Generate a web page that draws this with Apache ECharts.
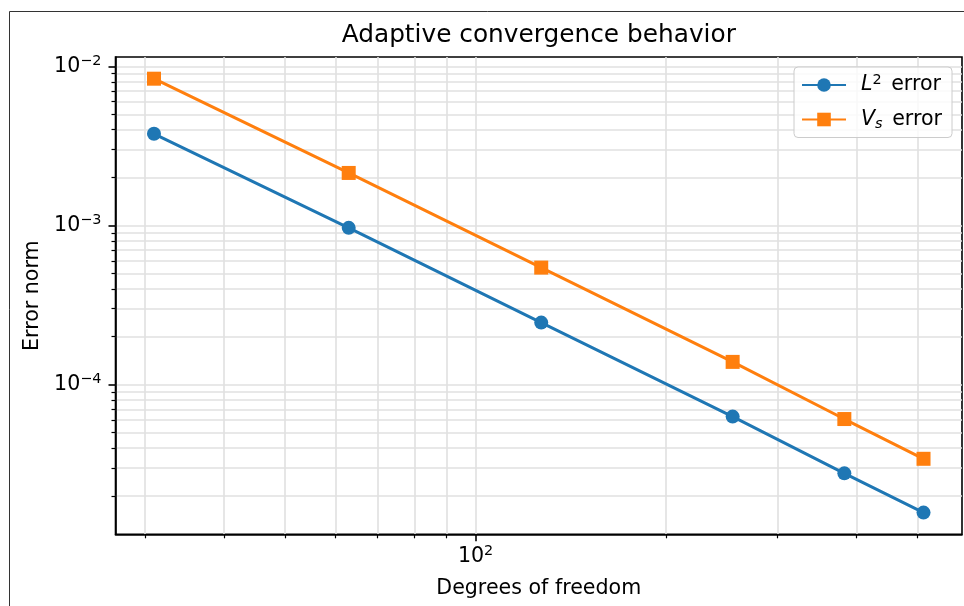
<!DOCTYPE html>
<html><head><meta charset="utf-8">
<script src="https://cdn.jsdelivr.net/npm/echarts@6/dist/echarts.min.js"></script>
<style>html,body{margin:0;padding:0;background:#fff}#c{width:964px;height:606px}</style>
</head><body><div id="c"></div>
<script>
// ---- data ----
const dofs = [31, 63, 127, 255, 383, 511];
const l2Error = [3.77e-3, 9.67e-4, 2.455e-4, 6.30e-5, 2.77e-5, 1.57e-5];
const vsError = [8.37e-3, 2.14e-3, 5.44e-4, 1.39e-4, 6.08e-5, 3.42e-5];
const xMajorTicks = [100];
const xMinorTicks = [30, 40, 50, 60, 70, 80, 90, 200, 300, 400, 500];
const yMajorTicks = [1e-4, 1e-3, 1e-2];
const yMinorTicks = [2e-5, 3e-5, 4e-5, 5e-5, 6e-5, 7e-5, 8e-5, 9e-5,
                     2e-4, 3e-4, 4e-4, 5e-4, 6e-4, 7e-4, 8e-4, 9e-4,
                     2e-3, 3e-3, 4e-3, 5e-3, 6e-3, 7e-3, 8e-3, 9e-3];
const titleText = 'Adaptive convergence behavior';
const xName = 'Degrees of freedom';
const yName = 'Error norm';

const FONT = 'DejaVu Sans';
const BLUE = '#1f77b4', ORANGE = '#ff7f0e';
const GRID_COLOR = '#e0e0e0';
const FS = 20.6, FS_SUP = 14.4;

function logPad(vals) {
  const lo = Math.log10(Math.min(...vals)), hi = Math.log10(Math.max(...vals));
  const m = (hi - lo) * 0.05;
  return [lo - m, hi + m];
}
const xLog = logPad(dofs);
const yLog = logPad(l2Error.concat(vsError));

function powLabel(v) {
  const e = Math.log10(v), r = Math.round(e);
  if (Math.abs(e - r) > 1e-6) return '';
  return '{b|10}{s|' + (r < 0 ? '\u2212' + (-r) : r) + '}';
}
const labelRich = {
  b: { fontSize: FS, fontFamily: FONT, color: '#000', lineHeight: 24 },
  s: { fontSize: FS_SUP, fontFamily: FONT, color: '#000', lineHeight: 14, verticalAlign: 'top' }
};

const gridL = 115.5, gridR = 2, gridT = 57, gridB = 71.7;

function helperX(ticks, len, w) {
  return {
    type: 'value', gridIndex: 0, position: 'bottom',
    min: xLog[0], max: xLog[1],
    axisLine: { show: false }, axisLabel: { show: false },
    axisTick: { show: true, inside: false, length: len, customValues: ticks.map(Math.log10),
                lineStyle: { color: '#000', width: w } },
    splitLine: { show: true, lineStyle: { color: GRID_COLOR, width: 1.6 } },
    silent: true
  };
}
function helperY(ticks, len, w) {
  return {
    type: 'value', gridIndex: 0, position: 'left',
    min: yLog[0], max: yLog[1],
    axisLine: { show: false }, axisLabel: { show: false },
    axisTick: { show: true, inside: false, length: len, customValues: ticks.map(Math.log10),
                lineStyle: { color: '#000', width: w } },
    splitLine: { show: true, lineStyle: { color: GRID_COLOR, width: 1.6 } },
    silent: true
  };
}

const chart = echarts.init(document.getElementById('c'), null, { renderer: 'canvas' });
chart.setOption({
  animation: false,
  backgroundColor: '#fff',
  graphic: [
    { type: 'rect', silent: true, z: -10,
      shape: { x: 9.5, y: 11.5, width: 1000, height: 1000 },
      style: { fill: 'none', stroke: '#333', lineWidth: 1 } },
    { type: 'text', silent: true,
      x: gridL + (964 - gridL - gridR) / 2, y: 23,
      style: { text: titleText, fontSize: 24.8, fontFamily: FONT, fill: '#000',
               align: 'center', verticalAlign: 'top' } }
  ],
  grid: { left: gridL, right: gridR, top: gridT, bottom: gridB, containLabel: false,
          outerBoundsMode: 'none',
          show: true, borderColor: '#000', borderWidth: 1.6, backgroundColor: 'transparent' },
  legend: {
    orient: 'vertical', right: 12, top: 67,
    itemWidth: 44, itemHeight: 17, itemGap: 13.5,
    padding: [6, 10, 6, 7],
    borderColor: '#cccccc', borderWidth: 1, borderRadius: 4,
    backgroundColor: 'rgba(255,255,255,0.8)',
    formatter: function (name) {
      if (name === 'L2') return '{i|L}{sup|2}{t| error}';
      return '{i|V}{sub|s}{t| error}';
    },
    textStyle: {
      rich: {
        i: { fontSize: FS, fontFamily: FONT, fontStyle: 'italic', color: '#000', padding: [0, 0, 0, 10], lineHeight: 24 },
        sup: { fontSize: FS_SUP, fontFamily: FONT, color: '#000', verticalAlign: 'top', lineHeight: 14, padding: [0, 3, 0, 0] },
        sub: { fontSize: FS_SUP, fontFamily: FONT, fontStyle: 'italic', color: '#000', verticalAlign: 'bottom', lineHeight: 14, padding: [0, 3, 0, 0] },
        t: { fontSize: FS, fontFamily: FONT, color: '#000', lineHeight: 24 }
      }
    },
    data: ['L2', 'Vs']
  },
  xAxis: [
    {
      type: 'log', logBase: 10, gridIndex: 0, position: 'bottom',
      min: Math.pow(10, xLog[0]), max: Math.pow(10, xLog[1]),
      name: xName, nameLocation: 'middle', nameGap: 44,
      nameTextStyle: { fontSize: FS, fontFamily: FONT, color: '#000' },
      axisLine: { show: true, lineStyle: { color: '#000', width: 1.6 } },
      axisTick: { show: false }, splitLine: { show: false },
      axisLabel: { show: true, margin: 10, formatter: powLabel, rich: labelRich },
      z: 5
    },
    helperX(xMinorTicks, 4, 1.2),
    helperX(xMajorTicks, 7, 1.6)
  ],
  yAxis: [
    {
      type: 'log', logBase: 10, gridIndex: 0, position: 'left',
      min: Math.pow(10, yLog[0]), max: Math.pow(10, yLog[1]),
      name: yName, nameLocation: 'middle', nameGap: 70,
      nameTextStyle: { fontSize: FS, fontFamily: FONT, color: '#000' },
      axisLine: { show: true, lineStyle: { color: '#000', width: 1.6 } },
      axisTick: { show: false }, splitLine: { show: false },
      axisLabel: { show: true, margin: 14, formatter: powLabel, rich: labelRich },
      z: 5
    },
    helperY(yMinorTicks, 4, 1.2),
    helperY(yMajorTicks, 7, 1.6)
  ],
  series: [
    {
      name: 'L2', type: 'line', xAxisIndex: 0, yAxisIndex: 0,
      data: dofs.map((d, i) => [d, l2Error[i]]),
      symbol: 'circle', symbolSize: 14, showSymbol: true,
      lineStyle: { color: BLUE, width: 3 }, itemStyle: { color: BLUE, borderWidth: 0 },
      z: 3
    },
    {
      name: 'Vs', type: 'line', xAxisIndex: 0, yAxisIndex: 0,
      data: dofs.map((d, i) => [d, vsError[i]]),
      symbol: 'rect', symbolSize: 14, showSymbol: true,
      lineStyle: { color: ORANGE, width: 3 }, itemStyle: { color: ORANGE, borderWidth: 0 },
      z: 3
    }
  ]
});
</script>
</body></html>
